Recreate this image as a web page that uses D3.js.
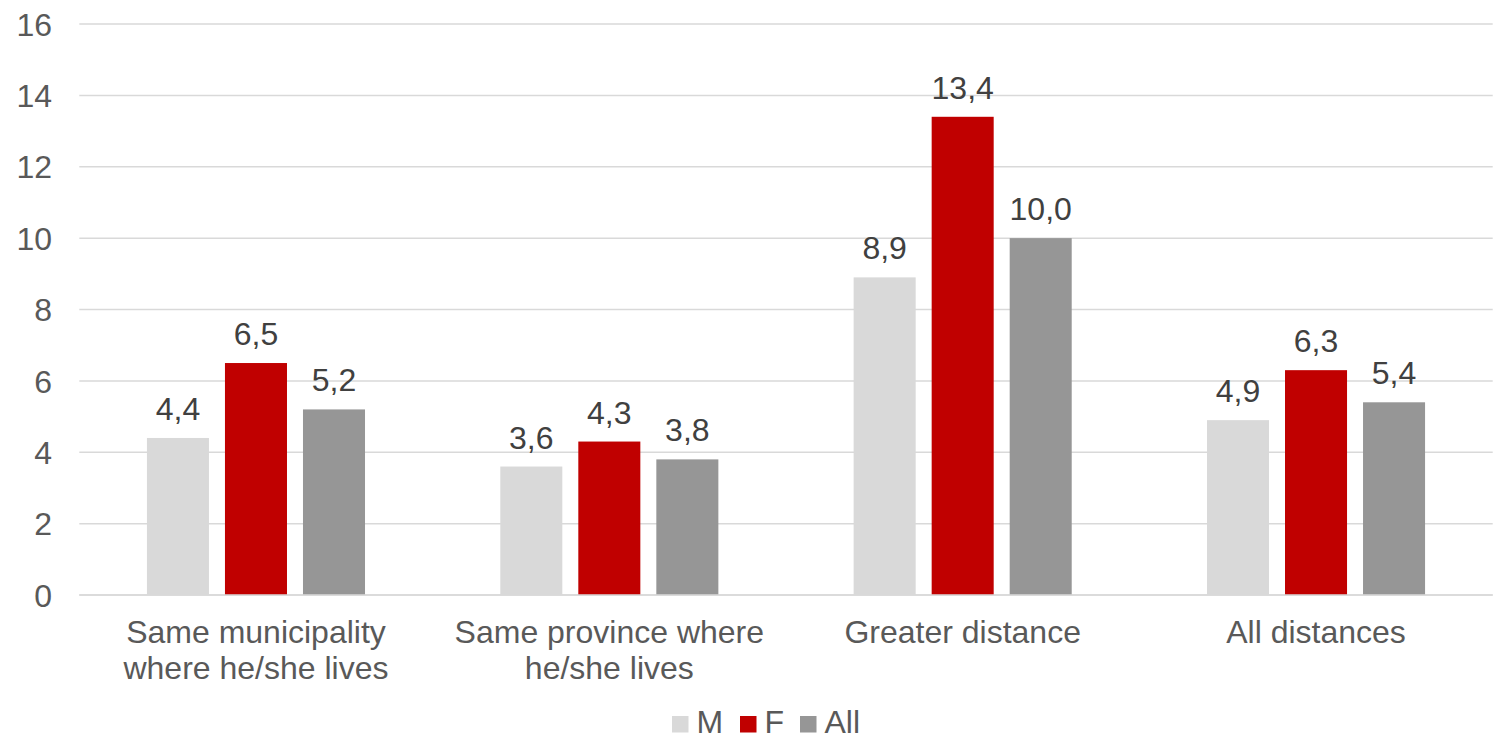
<!DOCTYPE html>
<html><head><meta charset="utf-8">
<script src="https://cdn.jsdelivr.net/npm/d3@7"></script>
<style>
html,body{margin:0;padding:0;background:#fff;}
text{font-family:"Liberation Sans",Arial,sans-serif;}
</style></head>
<body><svg id="c" width="1494" height="742"></svg>
<script>
const categories = [["Same municipality","where he/she lives"],["Same province where","he/she lives"],["Greater distance"],["All distances"]];
const seriesNames = ["M","F","All"];
const valuesM = [4.4, 3.6, 8.9, 4.9];
const valuesF = [6.5, 4.3, 13.4, 6.3];
const valuesAll = [5.2, 3.8, 10.0, 5.4];
const yTicks = [0,2,4,6,8,10,12,14,16];
const colors = ["#d9d9d9","#c00000","#969696"];

const series = [valuesM, valuesF, valuesAll];
const svg = d3.select("#c");
const fs = 32;
const x0 = d3.scaleBand().domain(d3.range(categories.length)).range([79.3,1492.7]).padding(0);
const x1 = d3.scaleBand().domain(seriesNames).range([0,x0.bandwidth()]).paddingInner(0.205).paddingOuter(0.867);
const y = d3.scaleLinear().domain([0,16]).range([595,24]);

// gridlines
svg.append("g").selectAll("line").data(yTicks).join("line")
  .attr("x1",79.3).attr("x2",1492.7)
  .attr("y1",d=>y(d)).attr("y2",d=>y(d))
  .attr("stroke","#d9d9d9").attr("stroke-width",1.5);

// y axis labels
const yAxis = d3.axisLeft(y).tickValues(yTicks).tickSize(0).tickPadding(0).tickFormat(d3.format("d"));
const ga = svg.append("g").attr("transform","translate(52,0)").call(yAxis);
ga.select(".domain").remove();
ga.selectAll("text").attr("font-size",fs).attr("fill","#595959").attr("font-family","Liberation Sans, Arial, sans-serif").attr("dy","0.35em");

// bars
const fmt = v => d3.format(".1f")(v).replace(".",",");
categories.forEach((c,i)=>{
  const g = svg.append("g").attr("transform",`translate(${x0(i)},0)`);
  seriesNames.forEach((s,j)=>{
    const v = series[j][i];
    g.append("rect").attr("x",x1(s)).attr("width",x1.bandwidth())
      .attr("y",y(v)).attr("height",y(0)-y(v)).attr("fill",colors[j]);
    g.append("text").attr("x",x1(s)+x1.bandwidth()/2).attr("y",y(v)-18)
      .attr("text-anchor","middle").attr("font-size",fs).attr("fill","#404040").text(fmt(v));
  });
  const t = svg.append("text").attr("x",x0(i)+x0.bandwidth()/2).attr("y",643)
    .attr("text-anchor","middle").attr("font-size",fs).attr("fill","#595959");
  c.forEach((line,k)=>t.append("tspan").attr("x",x0(i)+x0.bandwidth()/2).attr("dy",k===0?0:36).text(line));
});

// baseline axis
svg.append("line").attr("x1",79.3).attr("x2",1492.7).attr("y1",y(0)).attr("y2",y(0)).attr("stroke","#d9d9d9").attr("stroke-width",1.5);

// legend
const legX = [672,740,800];
const lg = svg.append("g");
seriesNames.forEach((s,j)=>{
  lg.append("rect").attr("x",legX[j]).attr("y",716).attr("width",16.5).attr("height",16.5).attr("fill",colors[j]);
  lg.append("text").attr("x",legX[j]+24.5).attr("y",733).attr("font-size",fs).attr("fill","#595959").text(s);
});
</script></body></html>
